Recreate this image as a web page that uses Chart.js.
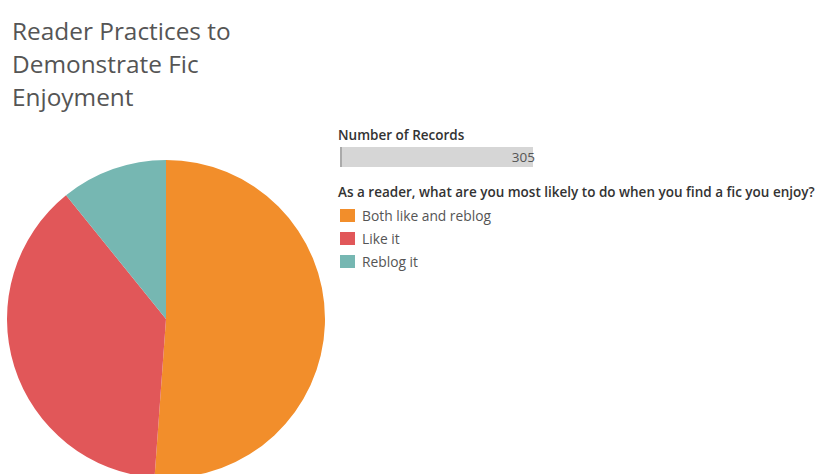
<!DOCTYPE html>
<html>
<head>
<meta charset="utf-8">
<script src="https://cdn.jsdelivr.net/npm/chart.js@4"></script>
<style>
  html, body { margin: 0; padding: 0; width: 825px; height: 474px; overflow: hidden; background: #fff; }
  body { position: relative; font-family: "Open Sans", sans-serif; }
  #title { position: absolute; left: 12px; top: 14px; font-size: 24.4px; line-height: 33px; color: #555; font-weight: 400; }
  #pieBox { position: absolute; left: 7px; top: 160px; width: 318px; height: 318px; }
  #legend { position: absolute; left: 338px; top: 126px; color: #555; }
  .head { font-size: 13.5px; font-weight: 600; color: #333; white-space: nowrap; }
  .sizebar { position: relative; margin: 3px 0 0 2px; width: 193px; height: 20px; background: #d6d6d6; border-left: 2px solid #aaa; box-sizing: border-box; }
  .sizebar span { position: absolute; right: -2px; top: 1px; font-size: 13.5px; color: #555; }
  .item { position: relative; height: 23px; font-size: 13.8px; line-height: 20px; }
  .item i { position: absolute; left: 2px; top: 4px; width: 15px; height: 13px; }
  .item b { position: absolute; left: 24px; top: 1px; font-weight: 400; white-space: nowrap; }
</style>
</head>
<body>
<div id="title">Reader Practices to<br>Demonstrate Fic<br>Enjoyment</div>
<div id="pieBox"><canvas id="pie"></canvas></div>
<div id="legend"></div>
<script>
const categories = ['Both like and reblog', 'Like it', 'Reblog it'];
const records = [156, 116, 33];
const colors = ['#f28e2b', '#e15759', '#76b7b2'];
const legendTitle = 'As a reader, what are you most likely to do when you find a fic you enjoy?';

const total = records.reduce((a, b) => a + b, 0);

// legend: size bar + colour key
const legend = document.getElementById('legend');
let html = '<div class="head">Number of Records</div>';
html += '<div class="sizebar"><span>' + total + '</span></div>';
html += '<div class="head" style="margin-top:16px;margin-bottom:4px">' + legendTitle + '</div>';
categories.forEach((c, i) => {
    html += '<div class="item"><i style="background:' + colors[i] + '"></i><b>' + c + '</b></div>';
});
legend.innerHTML = html;

new Chart(document.getElementById('pie'), {
    type: 'pie',
    data: {
        labels: categories,
        datasets: [{
            data: records,
            backgroundColor: colors,
            borderWidth: 0
        }]
    },
    options: {
        responsive: true,
        maintainAspectRatio: false,
        animation: false,
        layout: { padding: 0 },
        plugins: { legend: { display: false }, tooltip: { enabled: false } }
    }
});
</script>
</body>
</html>
